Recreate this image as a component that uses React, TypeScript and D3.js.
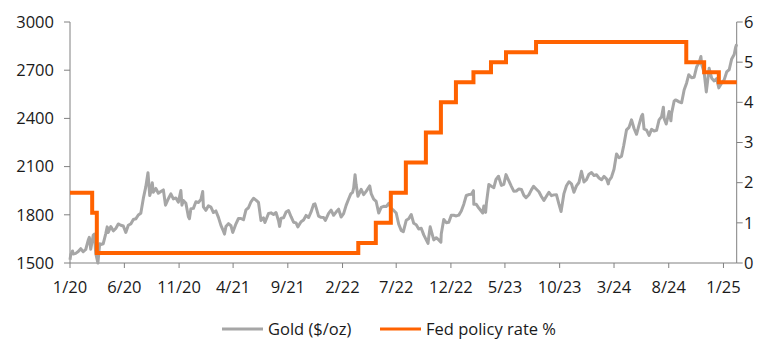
import React from "react";
import * as d3 from "d3";

const W = 777;
const H = 359;

const leftTicks = [1500, 1800, 2100, 2400, 2700, 3000];
const rightTicks = [0, 1, 2, 3, 4, 5, 6];
const xTickLabels = ["1/20", "6/20", "11/20", "4/21", "9/21", "2/22", "7/22", "12/22", "5/23", "10/23", "3/24", "8/24", "1/25"];
const xTickDates = ["2020-01-01", "2020-06-01", "2020-11-01", "2021-04-01", "2021-09-01", "2022-02-01", "2022-07-01", "2022-12-01", "2023-05-01", "2023-10-01", "2024-03-01", "2024-08-01", "2025-01-01"];

const gold: [string, number][] = [
  ["2020-01-01", 1520], ["2020-01-03", 1552], ["2020-01-08", 1575], ["2020-01-10", 1556], ["2020-01-17", 1560], ["2020-01-24", 1571], ["2020-01-31", 1589],
  ["2020-02-07", 1570], ["2020-02-14", 1584], ["2020-02-21", 1643], ["2020-02-24", 1660], ["2020-02-28", 1585], ["2020-03-06", 1674], ["2020-03-09", 1680],
  ["2020-03-13", 1560], ["2020-03-19", 1500], ["2020-03-24", 1620], ["2020-03-27", 1615], ["2020-04-03", 1620], ["2020-04-10", 1683], ["2020-04-14", 1725],
  ["2020-04-17", 1690], ["2020-04-24", 1727], ["2020-05-01", 1700], ["2020-05-08", 1715], ["2020-05-15", 1743], ["2020-05-22", 1735], ["2020-05-29", 1730],
  ["2020-06-05", 1690], ["2020-06-12", 1735], ["2020-06-19", 1743], ["2020-06-26", 1771], ["2020-07-03", 1775], ["2020-07-10", 1799], ["2020-07-17", 1810],
  ["2020-07-24", 1902], ["2020-07-31", 1975], ["2020-08-06", 2062], ["2020-08-11", 1920], ["2020-08-14", 1944], ["2020-08-18", 2000], ["2020-08-21", 1940],
  ["2020-08-28", 1964], ["2020-09-04", 1934], ["2020-09-11", 1945], ["2020-09-18", 1955], ["2020-09-24", 1860], ["2020-10-02", 1900], ["2020-10-09", 1930],
  ["2020-10-16", 1899], ["2020-10-23", 1905], ["2020-10-30", 1879], ["2020-11-06", 1951], ["2020-11-09", 1860], ["2020-11-13", 1889], ["2020-11-20", 1872],
  ["2020-11-27", 1788], ["2020-11-30", 1776], ["2020-12-04", 1838], ["2020-12-11", 1840], ["2020-12-18", 1881], ["2020-12-25", 1877], ["2021-01-01", 1895],
  ["2021-01-06", 1945], ["2021-01-08", 1850], ["2021-01-15", 1828], ["2021-01-22", 1856], ["2021-01-29", 1848], ["2021-02-05", 1814], ["2021-02-12", 1824],
  ["2021-02-19", 1784], ["2021-02-26", 1734], ["2021-03-05", 1698], ["2021-03-08", 1680], ["2021-03-12", 1727], ["2021-03-19", 1745], ["2021-03-26", 1732],
  ["2021-03-31", 1690], ["2021-04-09", 1744], ["2021-04-16", 1777], ["2021-04-23", 1777], ["2021-04-30", 1769], ["2021-05-07", 1831], ["2021-05-14", 1844],
  ["2021-05-21", 1881], ["2021-05-28", 1903], ["2021-06-04", 1891], ["2021-06-11", 1877], ["2021-06-18", 1764], ["2021-06-25", 1781], ["2021-06-29", 1752],
  ["2021-07-09", 1808], ["2021-07-16", 1812], ["2021-07-23", 1802], ["2021-07-30", 1814], ["2021-08-06", 1763], ["2021-08-09", 1728], ["2021-08-13", 1779],
  ["2021-08-20", 1781], ["2021-08-27", 1817], ["2021-09-03", 1827], ["2021-09-10", 1788], ["2021-09-17", 1754], ["2021-09-24", 1750], ["2021-09-29", 1725],
  ["2021-10-08", 1757], ["2021-10-15", 1768], ["2021-10-22", 1796], ["2021-10-29", 1783], ["2021-11-05", 1818], ["2021-11-12", 1865], ["2021-11-16", 1868],
  ["2021-11-19", 1846], ["2021-11-26", 1792], ["2021-12-03", 1784], ["2021-12-10", 1783], ["2021-12-15", 1765], ["2021-12-24", 1809], ["2021-12-31", 1829],
  ["2022-01-07", 1797], ["2022-01-14", 1817], ["2022-01-21", 1835], ["2022-01-28", 1786], ["2022-02-04", 1807], ["2022-02-11", 1859], ["2022-02-18", 1898],
  ["2022-02-24", 1930], ["2022-03-01", 1940], ["2022-03-04", 1966], ["2022-03-08", 2050], ["2022-03-11", 1988], ["2022-03-16", 1915], ["2022-03-25", 1958],
  ["2022-04-01", 1925], ["2022-04-08", 1946], ["2022-04-18", 1980], ["2022-04-22", 1932], ["2022-04-29", 1897], ["2022-05-06", 1883], ["2022-05-13", 1811],
  ["2022-05-20", 1846], ["2022-05-27", 1853], ["2022-06-03", 1851], ["2022-06-10", 1871], ["2022-06-17", 1840], ["2022-06-24", 1827], ["2022-07-01", 1811],
  ["2022-07-08", 1742], ["2022-07-15", 1703], ["2022-07-21", 1695], ["2022-07-29", 1766], ["2022-08-05", 1775], ["2022-08-12", 1802], ["2022-08-19", 1747],
  ["2022-08-26", 1738], ["2022-09-02", 1712], ["2022-09-09", 1716], ["2022-09-16", 1675], ["2022-09-23", 1644], ["2022-09-28", 1622], ["2022-09-30", 1661],
  ["2022-10-04", 1725], ["2022-10-14", 1644], ["2022-10-21", 1657], ["2022-10-28", 1644], ["2022-11-03", 1630], ["2022-11-04", 1681], ["2022-11-11", 1771],
  ["2022-11-18", 1751], ["2022-11-25", 1754], ["2022-12-02", 1797], ["2022-12-09", 1797], ["2022-12-16", 1793], ["2022-12-23", 1798], ["2022-12-30", 1824],
  ["2023-01-06", 1866], ["2023-01-13", 1920], ["2023-01-20", 1926], ["2023-01-27", 1928], ["2023-02-02", 1950], ["2023-02-03", 1865], ["2023-02-10", 1865],
  ["2023-02-17", 1842], ["2023-02-28", 1811], ["2023-03-03", 1855], ["2023-03-08", 1815], ["2023-03-10", 1868], ["2023-03-17", 1989], ["2023-03-24", 1978],
  ["2023-03-31", 1969], ["2023-04-06", 2020], ["2023-04-13", 2040], ["2023-04-21", 1983], ["2023-04-28", 1990], ["2023-05-04", 2050], ["2023-05-12", 2011],
  ["2023-05-19", 1977], ["2023-05-26", 1946], ["2023-06-02", 1948], ["2023-06-09", 1961], ["2023-06-16", 1958], ["2023-06-23", 1921], ["2023-06-29", 1907],
  ["2023-07-07", 1925], ["2023-07-14", 1955], ["2023-07-20", 1977], ["2023-07-28", 1959], ["2023-08-04", 1943], ["2023-08-11", 1914], ["2023-08-18", 1889],
  ["2023-08-25", 1915], ["2023-09-01", 1940], ["2023-09-08", 1919], ["2023-09-15", 1924], ["2023-09-22", 1925], ["2023-09-29", 1866], ["2023-10-05", 1820],
  ["2023-10-13", 1932], ["2023-10-20", 1981], ["2023-10-27", 2006], ["2023-11-03", 1993], ["2023-11-10", 1940], ["2023-11-17", 1980], ["2023-11-24", 2001],
  ["2023-12-01", 2071], ["2023-12-08", 2004], ["2023-12-15", 2019], ["2023-12-22", 2053], ["2023-12-29", 2063], ["2024-01-05", 2045], ["2024-01-12", 2049],
  ["2024-01-19", 2029], ["2024-01-26", 2018], ["2024-02-02", 2039], ["2024-02-09", 2024], ["2024-02-14", 1992], ["2024-02-16", 2013], ["2024-02-23", 2035],
  ["2024-03-01", 2083], ["2024-03-08", 2179], ["2024-03-15", 2155], ["2024-03-22", 2165], ["2024-03-28", 2230], ["2024-04-05", 2329], ["2024-04-12", 2344],
  ["2024-04-19", 2391], ["2024-04-26", 2337], ["2024-05-03", 2301], ["2024-05-10", 2360], ["2024-05-17", 2415], ["2024-05-20", 2425], ["2024-05-24", 2334],
  ["2024-05-31", 2327], ["2024-06-07", 2294], ["2024-06-14", 2332], ["2024-06-21", 2322], ["2024-06-28", 2326], ["2024-07-05", 2391], ["2024-07-12", 2411],
  ["2024-07-17", 2470], ["2024-07-19", 2400], ["2024-07-25", 2365], ["2024-08-02", 2443], ["2024-08-07", 2385], ["2024-08-09", 2431], ["2024-08-16", 2507],
  ["2024-08-20", 2515], ["2024-08-23", 2512], ["2024-08-30", 2503], ["2024-09-06", 2497], ["2024-09-13", 2577], ["2024-09-20", 2621], ["2024-09-26", 2672],
  ["2024-10-04", 2653], ["2024-10-11", 2656], ["2024-10-18", 2721], ["2024-10-25", 2747], ["2024-10-30", 2785], ["2024-11-01", 2736], ["2024-11-08", 2685],
  ["2024-11-14", 2565], ["2024-11-22", 2712], ["2024-11-29", 2650], ["2024-12-06", 2633], ["2024-12-13", 2648], ["2024-12-19", 2590], ["2024-12-27", 2621],
  ["2025-01-03", 2640], ["2025-01-10", 2689], ["2025-01-17", 2703], ["2025-01-24", 2770], ["2025-01-31", 2798], ["2025-02-04", 2843], ["2025-02-07", 2861],
];

const fedRate: [string, number][] = [
  ["2020-01-01", 1.75], ["2020-03-03", 1.25], ["2020-03-16", 0.25], ["2022-03-17", 0.5], ["2022-05-05", 1.0],
  ["2022-06-16", 1.75], ["2022-07-28", 2.5], ["2022-09-22", 3.25], ["2022-11-03", 4.0], ["2022-12-15", 4.5],
  ["2023-02-02", 4.75], ["2023-03-23", 5.0], ["2023-05-04", 5.25], ["2023-07-27", 5.5], ["2024-09-19", 5.0],
  ["2024-11-08", 4.75], ["2024-12-19", 4.5], ["2025-02-07", 4.5],
];

const legendItems = [
  { label: "Gold ($/oz)", color: "#A6A6A6" },
  { label: "Fed policy rate %", color: "#FF6200" },
];

const parse = d3.utcParse("%Y-%m-%d");

export default function App() {
  const m = { left: 70, right: 736.7, top: 22, bottom: 263 };
  const x = d3.scaleUtc().domain([parse("2020-01-01")!, parse("2025-02-07")!]).range([m.left, m.right]);
  const yL = d3.scaleLinear().domain([1500, 3000]).range([m.bottom, m.top]);
  const yR = d3.scaleLinear().domain([0, 6]).range([m.bottom, m.top]);

  const goldLine = d3.line<[string, number]>().x((d) => x(parse(d[0])!)).y((d) => yL(d[1]));
  const fedLine = d3
    .line<[string, number]>()
    .x((d) => x(parse(d[0])!))
    .y((d) => yR(d[1]))
    .curve(d3.curveStepAfter);

  const axisColor = "#808080";
  const textColor = "#1a1a1a";
  const font = "'Open Sans', sans-serif";
  const fs = 16.5;

  return (
    <svg width={W} height={H} style={{ position: "absolute", left: 0, top: 0, background: "#fff" }} fontFamily={font}>
      {/* left axis */}
      <line x1={m.left} x2={m.left} y1={m.top} y2={m.bottom} stroke={axisColor} strokeWidth={1} />
      {leftTicks.map((t) => (
        <g key={"l" + t}>
          <line x1={m.left - 6} x2={m.left} y1={yL(t)} y2={yL(t)} stroke={axisColor} />
          <text x={54} y={yL(t)} dy="0.35em" textAnchor="end" fontSize={fs} fill={textColor}>
            {t}
          </text>
        </g>
      ))}
      {/* right axis */}
      <line x1={m.right} x2={m.right} y1={m.top} y2={m.bottom} stroke={axisColor} strokeWidth={1} />
      {rightTicks.map((t) => (
        <g key={"r" + t}>
          <line x1={m.right} x2={m.right + 6} y1={yR(t)} y2={yR(t)} stroke={axisColor} />
          <text x={744} y={yR(t)} dy="0.35em" textAnchor="start" fontSize={fs} fill={textColor}>
            {t}
          </text>
        </g>
      ))}
      {/* bottom axis */}
      <line x1={m.left} x2={m.right} y1={m.bottom} y2={m.bottom} stroke={axisColor} />
      {xTickDates.map((d, i) => {
        const xx = x(parse(d)!);
        return (
          <g key={"x" + d}>
            <line x1={xx} x2={xx} y1={m.bottom} y2={m.bottom + 5} stroke={axisColor} />
            <text x={xx} y={m.bottom + 30} textAnchor="middle" fontSize={fs} fill={textColor}>
              {xTickLabels[i]}
            </text>
          </g>
        );
      })}
      {/* series */}
      <path d={goldLine(gold) ?? ""} fill="none" stroke="#A6A6A6" strokeWidth={3} strokeLinejoin="round" />
      <path d={fedLine(fedRate) ?? ""} fill="none" stroke="#FF6200" strokeWidth={4} />
      {/* legend */}
      {legendItems.map((it, i) => {
        const lx = i === 0 ? 222 : 380;
        return (
          <g key={it.label}>
            <line x1={lx} x2={lx + 41} y1={329} y2={329} stroke={it.color} strokeWidth={3} />
            <text x={lx + 46} y={329} dy="0.35em" fontSize={fs} fill={textColor}>
              {it.label}
            </text>
          </g>
        );
      })}
    </svg>
  );
}
